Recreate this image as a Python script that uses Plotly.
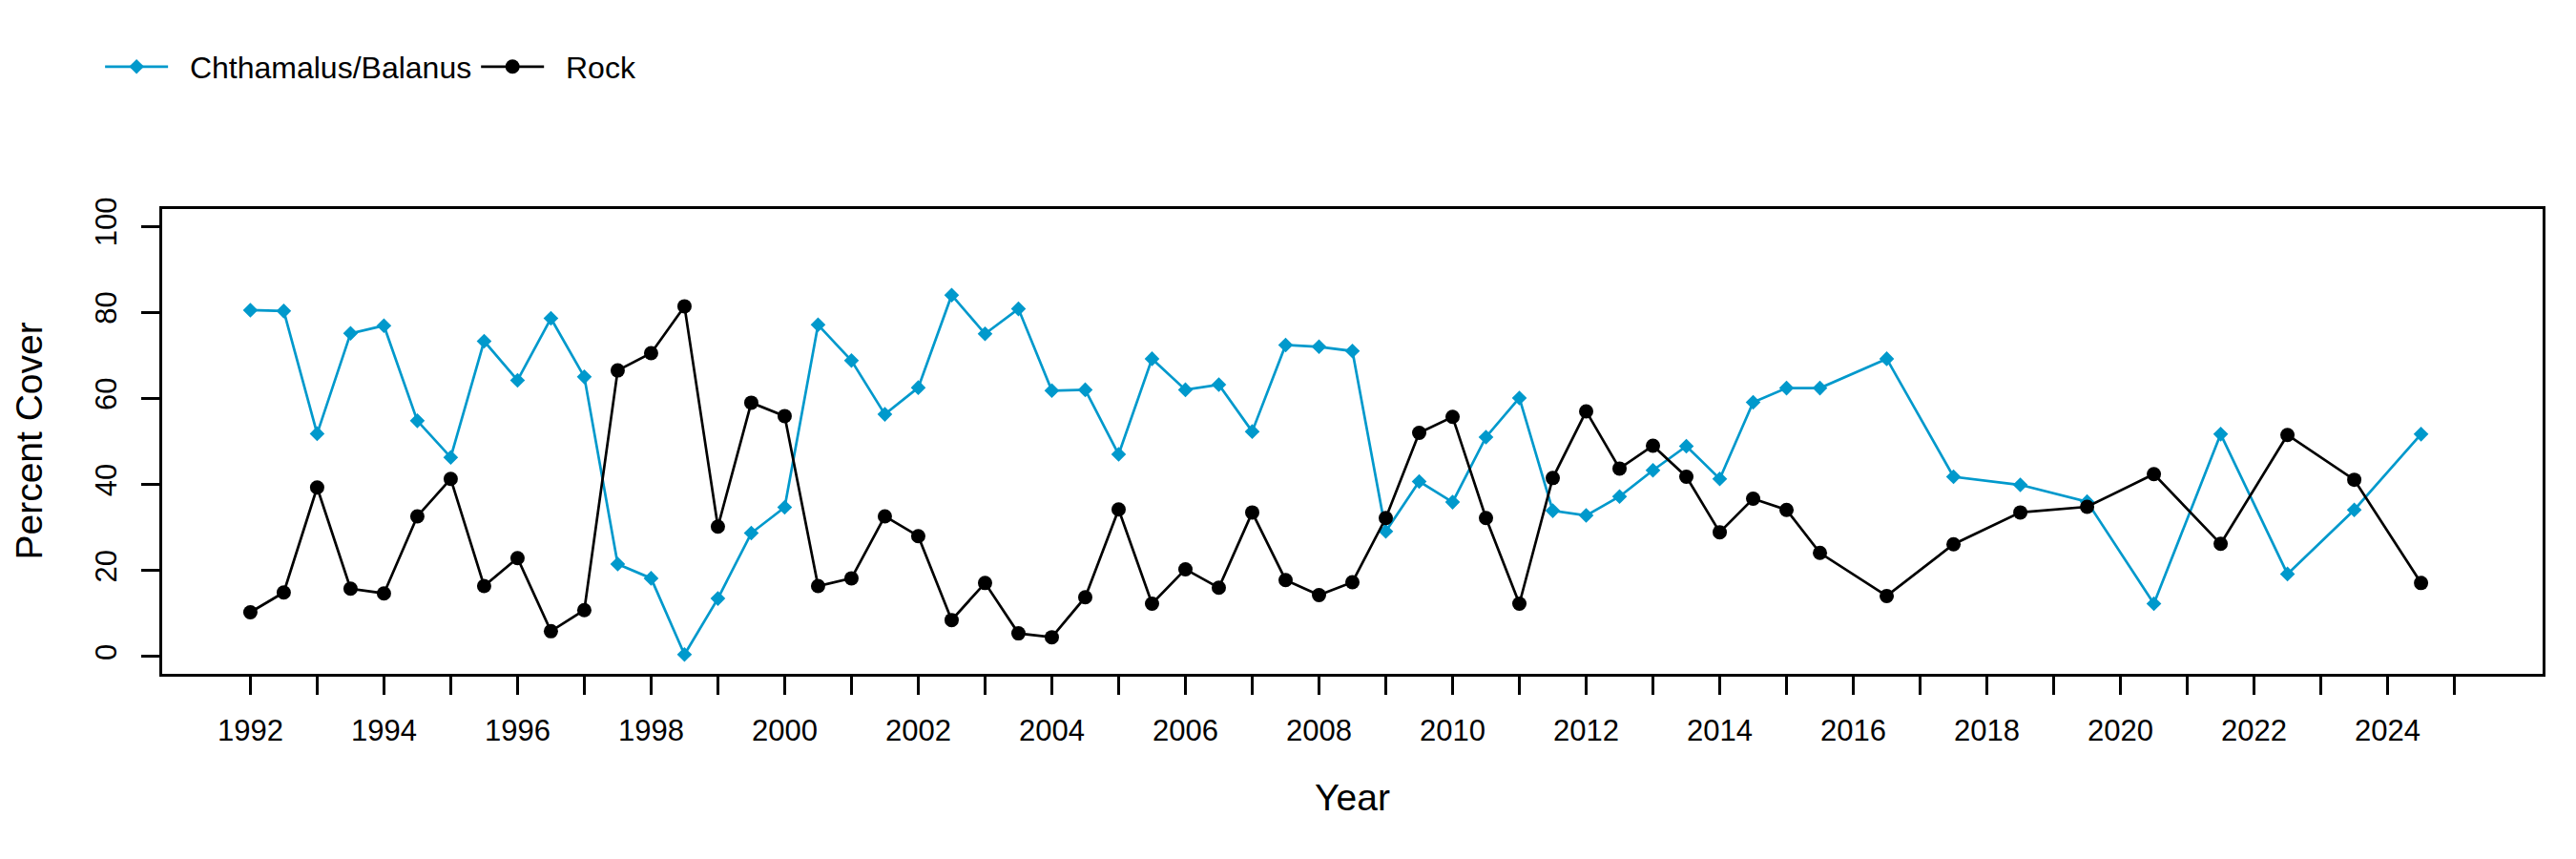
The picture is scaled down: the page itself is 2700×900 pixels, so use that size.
import plotly.graph_objects as go

years = [1992, 1992.5, 1993, 1993.5, 1994, 1994.5, 1995, 1995.5, 1996, 1996.5,
         1997, 1997.5, 1998, 1998.5, 1999, 1999.5, 2000, 2000.5, 2001, 2001.5,
         2002, 2002.5, 2003, 2003.5, 2004, 2004.5, 2005, 2005.5, 2006, 2006.5,
         2007, 2007.5, 2008, 2008.5, 2009, 2009.5, 2010, 2010.5, 2011, 2011.5,
         2012, 2012.5, 2013, 2013.5, 2014, 2014.5, 2015, 2015.5, 2016.5, 2017.5,
         2018.5, 2019.5, 2020.5, 2021.5, 2022.5, 2023.5, 2024.5]

chthamalus_balanus = [80.5, 80.3, 51.8, 75.1, 76.9, 54.8, 46.3, 73.3, 64.2, 78.6,
                      65.0, 21.5, 18.2, 0.5, 13.5, 28.7, 34.7, 77.1, 68.8, 56.3,
                      62.5, 84.0, 75.0, 80.8, 61.8, 62.0, 47.0, 69.2, 62.0, 63.2,
                      52.3, 72.4, 72.0, 71.0, 29.1, 40.7, 35.9, 51.0, 60.1, 33.9,
                      32.8, 37.2, 43.3, 48.9, 41.3, 59.1, 62.4, 62.4, 69.2, 41.8,
                      39.9, 36.0, 12.3, 51.7, 19.2, 34.1, 51.7]

rock = [10.3, 14.9, 39.3, 15.8, 14.7, 32.6, 41.3, 16.4, 22.9, 5.9,
        10.8, 66.5, 70.5, 81.4, 30.2, 59.0, 55.9, 16.4, 18.2, 32.6,
        28.0, 8.5, 17.1, 5.4, 4.5, 13.8, 34.2, 12.3, 20.3, 16.0,
        33.5, 17.8, 14.3, 17.3, 32.2, 52.0, 55.7, 32.2, 12.3, 41.5,
        57.0, 43.7, 49.0, 41.8, 28.9, 36.7, 34.1, 24.1, 14.1, 26.1,
        33.5, 34.8, 42.4, 26.2, 51.5, 41.1, 17.1]

series_names = ["Chthamalus/Balanus", "Rock"]

x_tick_vals = list(range(1992, 2026))
x_tick_text = [str(v) if v % 2 == 0 and v <= 2024 else "" for v in x_tick_vals]
y_tick_vals = [0, 20, 40, 60, 80, 100]

BLUE = "#0099CC"
FONT = "Liberation Sans, Arial, sans-serif"
PAD = "\u00a0\u00a0"

fig = go.Figure()
fig.add_trace(go.Scatter(
    x=years, y=chthamalus_balanus, name=PAD + series_names[0],
    mode="lines+markers",
    line=dict(color=BLUE, width=2.7),
    marker=dict(symbol="diamond", size=12, color=BLUE),
))
fig.add_trace(go.Scatter(
    x=years, y=rock, name=PAD + series_names[1],
    mode="lines+markers",
    line=dict(color="black", width=2.7),
    marker=dict(symbol="circle", size=15, color="black"),
))

fig.update_layout(
    width=2700, height=900,
    margin=dict(l=162, r=43, t=211, b=202, autoexpand=False),
    paper_bgcolor="white", plot_bgcolor="white",
    font=dict(family=FONT, size=31, color="black"),
    showlegend=True,
    legend=dict(
        orientation="h", x=-0.026, xanchor="left", y=1.306, yanchor="middle",
        font=dict(family=FONT, size=32, color="black"),
        bgcolor="rgba(0,0,0,0)", itemwidth=66, traceorder="normal",
    ),
    annotations=[dict(
        text="Percent Cover", xref="paper", yref="paper",
        x=-0.0561, y=0.5, xanchor="center", yanchor="middle",
        textangle=-90, showarrow=False,
        font=dict(family=FONT, size=39, color="black"),
    )],
)

fig.update_xaxes(
    range=[1990.68, 2026.32], automargin=False,
    tickvals=x_tick_vals, ticktext=x_tick_text,
    ticks="outside", ticklen=19, tickwidth=2.5, tickcolor="black",
    ticklabelstandoff=11,
    showline=True, linecolor="black", linewidth=2.7, mirror=True,
    showgrid=False, zeroline=False,
    tickfont=dict(family=FONT, size=31, color="black"),
    title=dict(text="Year", font=dict(family=FONT, size=39, color="black"), standoff=40),
)
fig.update_yaxes(
    range=[-4, 104], automargin=False,
    tickvals=y_tick_vals, ticktext=[str(v) for v in y_tick_vals],
    tickangle=-90,
    ticks="outside", ticklen=19, tickwidth=2.5, tickcolor="black",
    ticklabelstandoff=14,
    showline=True, linecolor="black", linewidth=2.7, mirror=True,
    showgrid=False, zeroline=False,
    tickfont=dict(family=FONT, size=31, color="black"),
)

fig.write_html("out.html")
